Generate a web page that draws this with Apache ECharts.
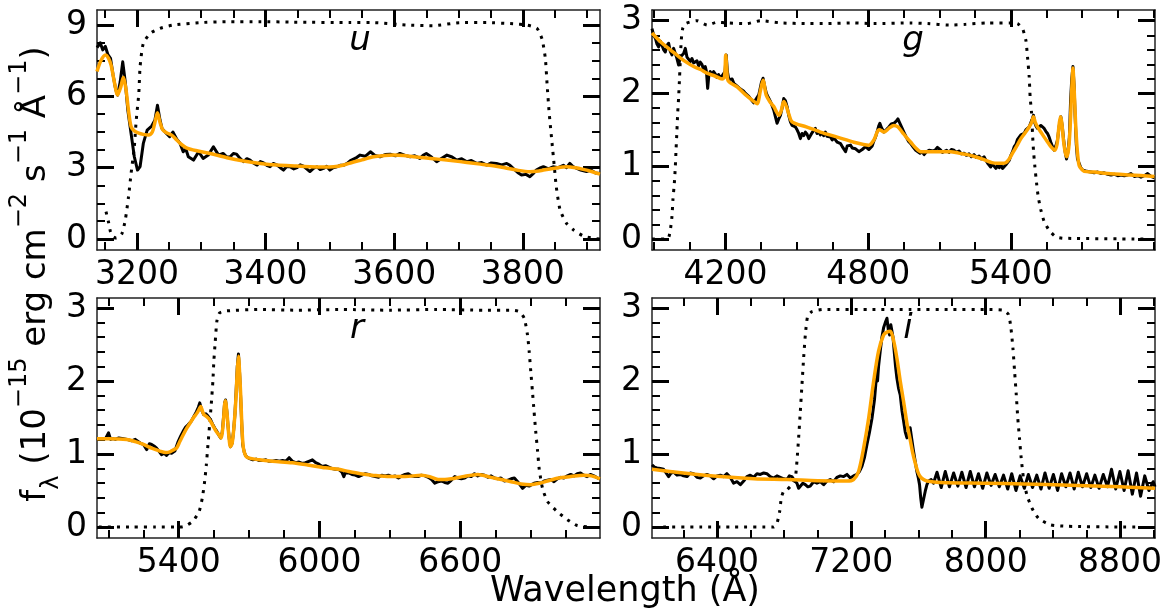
<!DOCTYPE html>
<html>
<head>
<meta charset="utf-8">
<script src="https://cdn.jsdelivr.net/npm/echarts@6/dist/echarts.min.js"></script>
<style>
  html, body { margin: 0; padding: 0; background: #fff; }
  #chart { width: 1172px; height: 614px; }
</style>
</head>
<body>
<div id="chart"></div>
<script>
// ---------- u band: observed spectrum, model fit, filter curve (wavelength Å, flux) ----------
const uSpectrum = [[3138,8.05],[3143,8.25],[3147,7.95],[3151,8.1],[3155,7.75],[3159,7.6],[3163,6.9],[3167,6.3],[3170,6.05],[3174,6.6],[3178,7.45],[3182,6.6],[3186,5.4],[3191,4.44],[3196,3.46],[3201,2.9],[3205,3.05],[3210,4.02],[3216,4.58],[3223,4.75],[3228,5.0],[3232,5.63],[3236,5.0],[3239,4.65],[3246,4.44],[3251,4.3],[3256,4.5],[3262,4.2],[3267,4.03],[3272,3.67],[3276,3.8],[3280,3.46],[3288,3.32],[3296,3.67],[3303,3.39],[3311,3.53],[3319,3.88],[3327,3.53],[3334,3.6],[3340,3.45],[3345,3.46],[3350,3.6],[3355,3.57],[3360,3.4],[3366,3.25],[3371,3.38],[3376,3.32],[3381,3.2],[3387,3.11],[3392,3.26],[3397,3.2],[3402,3.1],[3407,3.04],[3412,3.18],[3418,3.11],[3423,3.0],[3428,2.9],[3433,3.05],[3438,3.04],[3444,2.95],[3449,3.0],[3454,3.12],[3459,3.07],[3464,2.95],[3469,2.84],[3475,2.98],[3480,3.04],[3485,2.92],[3490,2.97],[3495,3.06],[3500,2.9],[3505,3.0],[3511,3.04],[3516,3.1],[3521,3.1],[3527,3.18],[3532,3.3],[3540,3.4],[3547,3.53],[3555,3.48],[3563,3.67],[3570,3.52],[3578,3.46],[3586,3.55],[3594,3.57],[3602,3.5],[3609,3.6],[3617,3.52],[3625,3.46],[3632,3.5],[3640,3.39],[3645,3.52],[3650,3.6],[3658,3.45],[3666,3.25],[3674,3.4],[3682,3.53],[3690,3.45],[3697,3.32],[3705,3.38],[3713,3.25],[3720,3.3],[3728,3.18],[3736,3.22],[3744,3.11],[3751,3.2],[3759,3.18],[3767,3.12],[3775,3.18],[3780,3.1],[3785,2.97],[3792,2.8],[3798,2.69],[3805,2.72],[3811,2.62],[3816,2.75],[3821,2.9],[3826,2.98],[3832,3.04],[3840,2.95],[3847,3.04],[3855,3.0],[3863,3.1],[3868,3.0],[3873,3.18],[3878,3.05],[3884,2.97],[3890,2.9],[3899,2.84],[3906,2.9],[3913,2.78],[3920,2.76]];
const uFit = [[3138,7.04],[3144,7.5],[3151,7.74],[3156,7.6],[3160,7.3],[3165,6.6],[3170,6.06],[3175,6.4],[3179,6.8],[3183,6.3],[3187,5.4],[3191,4.72],[3196,4.55],[3203,4.45],[3210,4.4],[3218,4.37],[3224,4.5],[3228,4.9],[3232,5.31],[3236,4.9],[3240,4.6],[3246,4.47],[3254,4.37],[3260,4.22],[3267,4.03],[3278,3.82],[3295,3.7],[3314,3.6],[3340,3.42],[3366,3.28],[3392,3.18],[3418,3.11],[3445,3.07],[3469,3.04],[3490,3.03],[3506,3.04],[3520,3.1],[3532,3.2],[3550,3.33],[3568,3.46],[3585,3.51],[3599,3.53],[3615,3.51],[3630,3.46],[3650,3.41],[3671,3.35],[3692,3.29],[3713,3.22],[3734,3.15],[3754,3.08],[3772,3.0],[3790,2.9],[3811,2.83],[3825,2.86],[3832,2.9],[3850,2.98],[3868,3.04],[3882,3.0],[3894,2.93],[3908,2.83],[3920,2.73]];
const uFilter = [[3152,1.15],[3156,0.7],[3159,0.3],[3163,0.1],[3168,0.04],[3173,0.1],[3177,0.24],[3182,0.8],[3187,1.78],[3191,2.76],[3196,3.88],[3199,5.0],[3203,6.13],[3205,7.25],[3210,8.23],[3221,8.65],[3236,8.86],[3257,9.0],[3298,9.1],[3340,9.14],[3392,9.14],[3443,9.12],[3532,9.1],[3568,9.1],[3620,9.0],[3661,8.97],[3703,9.1],[3744,9.1],[3785,9.05],[3806,9.0],[3822,8.86],[3830,8.4],[3835,7.6],[3838,6.4],[3841,5.3],[3845,4.16],[3849,3.04],[3852,2.2],[3858,1.22],[3868,0.66],[3879,0.38],[3894,0.13],[3910,0.03],[3920,0.0]];

// ---------- g band ----------
const gSpectrum = [[3891,2.89],[3898,2.8],[3905,2.76],[3912,2.68],[3919,2.64],[3926,2.72],[3933,2.71],[3940,2.6],[3947,2.57],[3954,2.66],[3961,2.69],[3968,2.58],[3975,2.53],[3982,2.62],[3989,2.6],[3996,2.48],[4003,2.39],[4010,2.5],[4017,2.48],[4024,2.55],[4031,2.62],[4038,2.5],[4045,2.5],[4052,2.44],[4059,2.48],[4066,2.42],[4073,2.41],[4080,2.45],[4087,2.38],[4094,2.43],[4101,2.4],[4108,2.33],[4115,2.37],[4120,2.3],[4125,2.07],[4130,2.25],[4136,2.3],[4143,2.26],[4150,2.3],[4157,2.27],[4164,2.22],[4171,2.26],[4178,2.21],[4185,2.24],[4192,2.25],[4198,2.3],[4203,2.53],[4208,2.3],[4214,2.19],[4221,2.17],[4228,2.2],[4235,2.14],[4242,2.15],[4249,2.1],[4256,2.09],[4263,2.06],[4270,2.07],[4277,2.03],[4284,2.0],[4291,2.01],[4298,1.96],[4305,1.93],[4312,1.9],[4319,1.87],[4326,1.91],[4333,1.89],[4340,1.98],[4344,2.04],[4351,2.15],[4358,2.21],[4365,2.1],[4372,2.0],[4379,1.95],[4386,1.91],[4393,1.86],[4403,1.77],[4410,1.68],[4417,1.59],[4424,1.65],[4431,1.7],[4438,1.8],[4445,1.93],[4452,1.9],[4459,1.82],[4466,1.7],[4473,1.61],[4480,1.56],[4487,1.57],[4494,1.54],[4501,1.5],[4508,1.45],[4515,1.38],[4522,1.45],[4529,1.42],[4536,1.47],[4543,1.44],[4550,1.38],[4557,1.4],[4564,1.46],[4571,1.47],[4578,1.52],[4585,1.45],[4592,1.48],[4599,1.43],[4606,1.46],[4613,1.42],[4620,1.47],[4627,1.41],[4634,1.43],[4642,1.4],[4649,1.36],[4656,1.4],[4663,1.36],[4670,1.33],[4677,1.35],[4684,1.31],[4691,1.27],[4698,1.25],[4705,1.2],[4712,1.28],[4719,1.3],[4726,1.29],[4733,1.25],[4740,1.27],[4747,1.24],[4754,1.22],[4761,1.2],[4768,1.18],[4775,1.23],[4782,1.25],[4789,1.27],[4796,1.26],[4803,1.23],[4810,1.24],[4817,1.28],[4824,1.35],[4831,1.4],[4838,1.48],[4845,1.56],[4849,1.59],[4856,1.53],[4866,1.47],[4876,1.5],[4887,1.54],[4897,1.58],[4908,1.59],[4918,1.62],[4925,1.65],[4932,1.6],[4943,1.52],[4950,1.47],[4960,1.4],[4970,1.34],[4979,1.31],[4990,1.26],[5000,1.22],[5007,1.2],[5018,1.18],[5028,1.2],[5035,1.16],[5045,1.2],[5056,1.22],[5063,1.2],[5073,1.21],[5084,1.23],[5091,1.26],[5098,1.27],[5105,1.22],[5112,1.19],[5119,1.2],[5130,1.22],[5140,1.19],[5150,1.23],[5161,1.22],[5171,1.19],[5182,1.21],[5192,1.17],[5203,1.18],[5213,1.15],[5224,1.17],[5234,1.13],[5245,1.16],[5255,1.12],[5266,1.14],[5276,1.1],[5287,1.13],[5297,1.07],[5305,1.03],[5315,0.99],[5322,1.03],[5330,1.0],[5337,0.97],[5344,1.01],[5351,0.98],[5358,1.02],[5365,0.97],[5372,0.99],[5379,1.02],[5386,1.05],[5393,1.08],[5400,1.15],[5407,1.2],[5414,1.27],[5421,1.3],[5428,1.37],[5435,1.4],[5442,1.43],[5449,1.44],[5456,1.45],[5463,1.5],[5470,1.52],[5477,1.54],[5484,1.6],[5490,1.65],[5495,1.7],[5500,1.6],[5506,1.55],[5512,1.52],[5519,1.54],[5526,1.56],[5533,1.56],[5540,1.52],[5547,1.48],[5554,1.45],[5561,1.4],[5568,1.33],[5575,1.27],[5582,1.22],[5589,1.28],[5596,1.36],[5603,1.55],[5610,1.68],[5616,1.55],[5622,1.36],[5628,1.2],[5634,1.1],[5640,1.2],[5646,1.4],[5651,1.9],[5656,2.2],[5661,2.37],[5666,2.1],[5670,1.7],[5675,1.3],[5680,1.1],[5687,1.04],[5694,0.98],[5701,0.95],[5708,0.94],[5720,0.93],[5736,0.92],[5750,0.91],[5765,0.92],[5778,0.9],[5792,0.91],[5807,0.89],[5821,0.88],[5835,0.89],[5849,0.87],[5863,0.88],[5877,0.87],[5891,0.88],[5905,0.9],[5919,0.86],[5933,0.87],[5947,0.85],[5961,0.87],[5975,0.9],[5989,0.86],[6004,0.84]];
const gFit = [[3891,2.83],[3930,2.7],[3968,2.6],[4010,2.49],[4040,2.42],[4066,2.37],[4095,2.33],[4122,2.28],[4155,2.24],[4186,2.2],[4196,2.23],[4201,2.53],[4206,2.3],[4212,2.17],[4249,2.09],[4285,1.98],[4319,1.89],[4333,1.86],[4347,2.04],[4358,2.18],[4371,1.98],[4386,1.89],[4403,1.82],[4414,1.75],[4424,1.7],[4434,1.76],[4445,1.89],[4455,1.83],[4466,1.72],[4480,1.61],[4540,1.54],[4599,1.47],[4670,1.4],[4740,1.33],[4780,1.3],[4803,1.29],[4824,1.36],[4845,1.5],[4856,1.49],[4866,1.47],[4887,1.52],[4908,1.56],[4925,1.54],[4943,1.47],[4960,1.4],[4979,1.33],[5000,1.25],[5021,1.2],[5050,1.2],[5077,1.2],[5110,1.2],[5147,1.2],[5180,1.18],[5217,1.16],[5250,1.13],[5287,1.09],[5320,1.05],[5344,1.04],[5365,1.04],[5379,1.05],[5393,1.1],[5407,1.18],[5425,1.28],[5442,1.38],[5460,1.46],[5477,1.54],[5487,1.6],[5495,1.68],[5503,1.6],[5512,1.54],[5526,1.47],[5540,1.4],[5555,1.33],[5568,1.27],[5585,1.22],[5594,1.3],[5599,1.45],[5604,1.6],[5609,1.68],[5614,1.6],[5621,1.36],[5628,1.2],[5634,1.13],[5640,1.18],[5645,1.31],[5650,1.6],[5654,1.91],[5658,2.2],[5661,2.35],[5664,2.2],[5668,1.91],[5672,1.6],[5677,1.31],[5682,1.12],[5687,1.01],[5697,0.96],[5708,0.93],[5750,0.92],[5807,0.9],[5900,0.88],[6004,0.86]];
const gFilter = [[3891,0.0],[3954,0.0],[3962,0.03],[3968,0.12],[3975,0.31],[3979,0.54],[3985,0.77],[3989,0.99],[3992,1.22],[3996,1.5],[3999,1.73],[4003,1.95],[4007,2.23],[4010,2.46],[4014,2.73],[4020,2.89],[4031,2.96],[4080,3.0],[4123,2.94],[4165,2.98],[4207,2.97],[4291,2.96],[4347,3.0],[4431,2.97],[4544,2.96],[4628,2.96],[4740,2.97],[4824,2.96],[4979,2.97],[5050,2.96],[5140,2.94],[5210,2.95],[5300,2.97],[5400,2.97],[5428,2.96],[5449,2.89],[5463,2.73],[5470,2.5],[5477,2.23],[5481,1.95],[5487,1.73],[5491,1.45],[5495,1.22],[5501,0.99],[5508,0.77],[5515,0.58],[5526,0.4],[5540,0.24],[5561,0.12],[5589,0.03],[5624,0.01],[5960,0.0]];

// ---------- r band ----------
const rSpectrum = [[5052,1.21],[5066,1.2],[5080,1.2],[5090,1.22],[5101,1.29],[5110,1.2],[5120,1.21],[5130,1.2],[5145,1.22],[5165,1.21],[5180,1.2],[5200,1.18],[5215,1.2],[5236,1.15],[5250,1.13],[5264,1.06],[5275,1.14],[5285,1.13],[5295,1.11],[5306,1.08],[5316,1.04],[5327,0.99],[5338,1.01],[5348,0.98],[5360,1.02],[5370,1.01],[5384,1.04],[5398,1.17],[5408,1.24],[5419,1.31],[5430,1.37],[5440,1.4],[5454,1.45],[5466,1.52],[5476,1.58],[5484,1.64],[5490,1.7],[5498,1.6],[5507,1.54],[5516,1.55],[5525,1.52],[5536,1.47],[5546,1.4],[5555,1.35],[5563,1.31],[5571,1.26],[5579,1.22],[5586,1.3],[5591,1.49],[5596,1.7],[5600,1.74],[5605,1.6],[5610,1.4],[5616,1.2],[5621,1.1],[5628,1.15],[5634,1.31],[5640,1.55],[5645,1.86],[5650,2.2],[5655,2.37],[5660,2.1],[5665,1.72],[5669,1.4],[5673,1.13],[5680,1.02],[5687,0.97],[5700,0.94],[5716,0.92],[5730,0.93],[5744,0.91],[5758,0.91],[5772,0.92],[5786,0.9],[5800,0.9],[5815,0.91],[5829,0.9],[5843,0.91],[5857,0.9],[5871,0.95],[5885,0.9],[5899,0.88],[5913,0.89],[5927,0.87],[5941,0.88],[5955,0.9],[5970,0.92],[5984,0.88],[5998,0.86],[6012,0.83],[6026,0.84],[6040,0.82],[6054,0.8],[6068,0.79],[6082,0.79],[6096,0.75],[6104,0.69],[6110,0.74],[6125,0.74],[6139,0.72],[6153,0.71],[6167,0.69],[6181,0.71],[6196,0.73],[6210,0.72],[6224,0.7],[6238,0.69],[6252,0.68],[6266,0.71],[6280,0.7],[6294,0.71],[6308,0.69],[6323,0.7],[6337,0.67],[6351,0.7],[6365,0.72],[6379,0.73],[6393,0.7],[6407,0.69],[6421,0.69],[6435,0.71],[6450,0.7],[6464,0.68],[6478,0.65],[6492,0.6],[6506,0.62],[6520,0.63],[6534,0.61],[6548,0.6],[6562,0.64],[6577,0.69],[6591,0.67],[6605,0.66],[6619,0.67],[6633,0.7],[6647,0.69],[6661,0.73],[6675,0.7],[6690,0.72],[6704,0.71],[6718,0.68],[6732,0.7],[6746,0.67],[6760,0.66],[6774,0.67],[6788,0.63],[6802,0.64],[6817,0.66],[6831,0.67],[6845,0.62],[6859,0.56],[6866,0.53],[6880,0.57],[6894,0.56],[6901,0.58],[6915,0.6],[6930,0.61],[6944,0.6],[6958,0.63],[6972,0.64],[6986,0.65],[7000,0.62],[7014,0.66],[7028,0.68],[7042,0.67],[7057,0.7],[7071,0.72],[7085,0.7],[7099,0.73],[7113,0.74],[7127,0.71],[7141,0.69],[7155,0.72],[7170,0.7],[7186,0.67],[7196,0.66]];
const rFit = [[5052,1.21],[5100,1.21],[5179,1.2],[5215,1.17],[5250,1.13],[5285,1.08],[5320,1.04],[5345,1.02],[5363,1.03],[5380,1.06],[5391,1.08],[5405,1.17],[5419,1.26],[5436,1.36],[5454,1.45],[5466,1.51],[5478,1.56],[5487,1.61],[5494,1.65],[5501,1.59],[5508,1.54],[5520,1.51],[5532,1.47],[5546,1.39],[5560,1.31],[5572,1.26],[5581,1.22],[5587,1.32],[5592,1.5],[5596,1.68],[5600,1.73],[5604,1.62],[5608,1.49],[5614,1.25],[5621,1.1],[5628,1.15],[5634,1.31],[5640,1.55],[5645,1.81],[5650,2.15],[5655,2.34],[5660,2.1],[5665,1.77],[5670,1.35],[5676,1.08],[5685,0.98],[5694,0.95],[5744,0.92],[5800,0.9],[5885,0.88],[5950,0.85],[6026,0.81],[6082,0.79],[6125,0.76],[6175,0.73],[6224,0.71],[6300,0.69],[6365,0.69],[6435,0.71],[6470,0.69],[6506,0.65],[6535,0.65],[6563,0.66],[6610,0.69],[6675,0.72],[6732,0.68],[6775,0.65],[6817,0.62],[6860,0.59],[6901,0.58],[6940,0.6],[6972,0.63],[7020,0.67],[7071,0.69],[7127,0.71],[7160,0.7],[7196,0.66]];
const rFilter = [[5060,0.0],[5200,0.0],[5300,0.0],[5410,0.0],[5433,0.02],[5461,0.08],[5487,0.21],[5501,0.4],[5511,0.63],[5518,0.85],[5525,1.13],[5532,1.4],[5539,1.68],[5546,2.0],[5550,2.27],[5556,2.54],[5563,2.82],[5574,2.93],[5603,2.96],[5744,2.98],[5900,2.97],[6100,2.98],[6300,2.97],[6500,2.98],[6700,2.97],[6817,2.97],[6852,2.95],[6873,2.86],[6887,2.63],[6894,2.41],[6901,2.13],[6908,1.86],[6915,1.58],[6922,1.31],[6930,1.04],[6937,0.79],[6951,0.53],[6972,0.35],[7014,0.21],[7057,0.1],[7099,0.02],[7156,0.0]];

// ---------- i band ----------
const iSpectrum = [[6013,0.85],[6028,0.82],[6043,0.81],[6062,0.8],[6082,0.79],[6097,0.74],[6112,0.69],[6127,0.74],[6142,0.75],[6162,0.71],[6182,0.72],[6201,0.7],[6221,0.69],[6241,0.74],[6261,0.73],[6281,0.68],[6301,0.67],[6320,0.7],[6340,0.72],[6360,0.7],[6380,0.66],[6400,0.7],[6420,0.71],[6440,0.69],[6459,0.73],[6479,0.68],[6499,0.6],[6519,0.62],[6539,0.58],[6559,0.63],[6578,0.69],[6598,0.71],[6618,0.68],[6638,0.73],[6658,0.72],[6678,0.74],[6697,0.73],[6717,0.69],[6737,0.67],[6757,0.7],[6777,0.68],[6797,0.66],[6817,0.65],[6831,0.7],[6846,0.69],[6861,0.64],[6876,0.6],[6886,0.53],[6896,0.53],[6911,0.6],[6926,0.58],[6941,0.55],[6955,0.56],[6975,0.62],[6995,0.6],[7015,0.62],[7035,0.58],[7055,0.63],[7074,0.65],[7094,0.62],[7114,0.68],[7134,0.7],[7154,0.69],[7174,0.72],[7194,0.67],[7213,0.7],[7233,0.72],[7248,0.76],[7263,0.83],[7278,0.95],[7293,1.13],[7308,1.3],[7323,1.49],[7338,1.75],[7352,2.13],[7356,2.0],[7362,2.2],[7372,2.41],[7382,2.6],[7392,2.73],[7402,2.8],[7412,2.86],[7420,2.7],[7428,2.63],[7435,2.77],[7442,2.77],[7448,2.6],[7455,2.41],[7463,2.2],[7471,2.04],[7481,1.9],[7491,1.81],[7501,1.6],[7511,1.45],[7521,1.3],[7531,1.22],[7541,1.2],[7550,1.36],[7560,1.2],[7570,1.04],[7580,0.9],[7590,0.76],[7598,0.68],[7606,0.58],[7613,0.4],[7620,0.27],[7630,0.38],[7640,0.49],[7650,0.58],[7660,0.63],[7675,0.65],[7689,0.6],[7710,0.75],[7735,0.54],[7759,0.76],[7784,0.55],[7809,0.74],[7834,0.56],[7858,0.75],[7883,0.54],[7908,0.76],[7933,0.55],[7957,0.73],[7982,0.53],[8007,0.74],[8032,0.57],[8056,0.72],[8081,0.55],[8106,0.71],[8131,0.52],[8155,0.73],[8180,0.5],[8205,0.7],[8230,0.53],[8254,0.72],[8279,0.54],[8304,0.71],[8329,0.52],[8353,0.74],[8378,0.53],[8403,0.72],[8428,0.5],[8452,0.73],[8477,0.55],[8502,0.74],[8527,0.52],[8551,0.75],[8576,0.55],[8601,0.73],[8626,0.54],[8650,0.71],[8675,0.53],[8700,0.72],[8725,0.55],[8749,0.79],[8774,0.52],[8799,0.76],[8824,0.5],[8848,0.77],[8873,0.45],[8898,0.74],[8922,0.42],[8947,0.7],[8972,0.5],[8997,0.62],[9008,0.55]];
const iFit = [[6013,0.79],[6200,0.74],[6420,0.69],[6620,0.66],[6817,0.65],[7000,0.635],[7174,0.63],[7213,0.65],[7243,0.76],[7273,1.08],[7303,1.49],[7333,2.0],[7362,2.41],[7392,2.63],[7412,2.67],[7432,2.68],[7452,2.55],[7472,2.3],[7491,2.0],[7511,1.72],[7531,1.42],[7550,1.2],[7565,1.02],[7580,0.88],[7595,0.76],[7610,0.69],[7630,0.65],[7650,0.63],[7729,0.61],[8000,0.6],[8225,0.59],[8500,0.57],[8800,0.55],[9008,0.53]];
const iFilter = [[6080,0.0],[6300,0.0],[6500,0.0],[6737,0.0],[6757,0.05],[6773,0.21],[6783,0.4],[6797,0.49],[6817,0.51],[6846,0.58],[6866,0.67],[6876,0.9],[6886,1.22],[6896,1.58],[6906,1.95],[6916,2.32],[6926,2.63],[6940,2.89],[6965,2.95],[7035,2.98],[7300,2.98],[7551,2.98],[7800,2.98],[8000,2.98],[8106,2.97],[8136,2.91],[8150,2.73],[8162,2.45],[8172,2.13],[8182,1.81],[8191,1.49],[8201,1.22],[8211,0.95],[8225,0.67],[8245,0.44],[8275,0.26],[8314,0.12],[8384,0.03],[8483,0.01],[8820,0.0],[8900,0.0]];

// ---------- axis tick labels ----------
const uTicksX = [3200, 3400, 3600, 3800];
const gTicksX = [4200, 4800, 5400];
const rTicksX = [5400, 6000, 6600];
const iTicksX = [6400, 7200, 8000, 8800];
const uTicksY = [0, 3, 6, 9];
const griTicksY = [0, 1, 2, 3];
const bandNames = ['u', 'g', 'r', 'i'];

// ---------- layout of the four panels ----------
const FONT = 'DejaVu Sans';
const panels = [
  { band: bandNames[0], box: [97, 10, 503, 240],  x: [3138, 3920], y: [-0.46, 9.63], xt: uTicksX, xMinor: 50,  yt: uTicksY,   yMinor: 0.75, spec: uSpectrum, fit: uFit, filt: uFilter, lab: [360, 41] },
  { band: bandNames[1], box: [652, 10, 503, 240], x: [3891, 6006], y: [-0.151, 3.147], xt: gTicksX, xMinor: 150, yt: griTicksY, yMinor: 0.2, spec: gSpectrum, fit: gFit, filt: gFilter, lab: [913, 41] },
  { band: bandNames[2], box: [97, 298, 503, 240], x: [5052, 7196], y: [-0.151, 3.137], xt: rTicksX, xMinor: 150, yt: griTicksY, yMinor: 0.2, spec: rSpectrum, fit: rFit, filt: rFilter, lab: [357, 329] },
  { band: bandNames[3], box: [652, 298, 503, 240], x: [6013, 9008], y: [-0.151, 3.137], xt: iTicksX, xMinor: 200, yt: griTicksY, yMinor: 0.2, spec: iSpectrum, fit: iFit, filt: iFilter, lab: [908, 329] }
];

// minor tick positions between/around the labelled ticks
function minorTicks(range, step, majors) {
  const out = [];
  const start = Math.ceil(range[0] / step);
  const end = Math.floor(range[1] / step);
  for (let k = start; k <= end; k++) {
    const v = Math.round(k * step * 1000) / 1000;
    if (!majors.some(m => Math.abs(m - v) < 1e-6)) out.push(v);
  }
  return out;
}

const frameLine = { show: true, onZero: false, lineStyle: { color: '#222', width: 1.5 } };
const noLine = { show: false, onZero: false };
const majorTick = vals => ({ show: true, inside: true, length: 17, customValues: vals, lineStyle: { color: '#000', width: 3 } });
const minorTick = vals => ({ show: true, inside: true, length: 8, customValues: vals, lineStyle: { color: '#000', width: 2 } });
const tickLabel = (vals, margin) => ({
  show: true, customValues: vals, margin: margin, fontSize: 33, fontFamily: FONT, color: '#000',
  formatter: v => String(v)
});

const grid = [], xAxis = [], yAxis = [], series = [], graphic = [];

panels.forEach((p, gi) => {
  grid.push({ left: p.box[0], top: p.box[1], width: p.box[2], height: p.box[3], containLabel: false });

  const xm = minorTicks(p.x, p.xMinor, p.xt);
  const ym = minorTicks(p.y, p.yMinor, p.yt);
  const xb = { type: 'value', gridIndex: gi, min: p.x[0], max: p.x[1], splitLine: { show: false } };
  const yb = { type: 'value', gridIndex: gi, min: p.y[0], max: p.y[1], splitLine: { show: false } };

  xAxis.push(
    Object.assign({}, xb, { position: 'bottom', axisLine: frameLine, axisTick: majorTick(p.xt), axisLabel: tickLabel(p.xt, 9) }),
    Object.assign({}, xb, { position: 'bottom', axisLine: noLine, axisTick: minorTick(xm), axisLabel: { show: false } }),
    Object.assign({}, xb, { position: 'top', axisLine: frameLine, axisTick: majorTick(p.xt), axisLabel: { show: false } }),
    Object.assign({}, xb, { position: 'top', axisLine: noLine, axisTick: minorTick(xm), axisLabel: { show: false } })
  );
  yAxis.push(
    Object.assign({}, yb, { position: 'left', axisLine: frameLine, axisTick: majorTick(p.yt), axisLabel: tickLabel(p.yt, 10) }),
    Object.assign({}, yb, { position: 'left', axisLine: noLine, axisTick: minorTick(ym), axisLabel: { show: false } }),
    Object.assign({}, yb, { position: 'right', axisLine: frameLine, axisTick: majorTick(p.yt), axisLabel: { show: false } }),
    Object.assign({}, yb, { position: 'right', axisLine: noLine, axisTick: minorTick(ym), axisLabel: { show: false } })
  );

  const ax = { xAxisIndex: gi * 4, yAxisIndex: gi * 4 };
  series.push(
    Object.assign({ type: 'line', name: p.band + ' filter', data: p.filt, symbol: 'none', smooth: 0.2, z: 2,
      lineStyle: { color: '#000', width: 3, type: [3, 6], cap: 'butt' } }, ax),
    Object.assign({ type: 'line', name: p.band + ' spectrum', data: p.spec, symbol: 'none', z: 3,
      lineStyle: { color: '#000', width: 3, join: 'round' } }, ax),
    Object.assign({ type: 'line', name: p.band + ' fit', data: p.fit, symbol: 'none', smooth: 0.3, z: 4,
      lineStyle: { color: '#FFA500', width: 3.5, join: 'round' } }, ax)
  );

  graphic.push({
    type: 'text', x: p.lab[0], y: p.lab[1], z: 10,
    style: { text: p.band, fontSize: 34, fontStyle: 'italic', fontFamily: FONT, fill: '#000',
      align: 'center', verticalAlign: 'middle', textAlign: 'center', textVerticalAlign: 'middle' }
  });
});

// axis titles
graphic.push({
  type: 'text', x: 625, y: 592, z: 10,
  style: { text: 'Wavelength (Å)', fontSize: 35, fontFamily: FONT, fill: '#000',
    align: 'center', verticalAlign: 'middle', textAlign: 'center', textVerticalAlign: 'middle' }
});
graphic.push({
  type: 'text', x: 36, y: 274, rotation: Math.PI / 2, z: 10,
  style: {
    text: '{m|f}{sub|λ}{m| (10}{sup|−15}{m| erg cm}{sup|−2}{m| s}{sup|−1}{m| Å}{sup|−1}{m|)}',
    fontSize: 34, fontFamily: FONT, fill: '#000',
    align: 'center', verticalAlign: 'middle', textAlign: 'center', textVerticalAlign: 'middle',
    rich: {
      m:   { fontSize: 34, fontFamily: FONT, fill: '#000', lineHeight: 56, verticalAlign: 'middle' },
      sup: { fontSize: 24, fontFamily: FONT, fill: '#000', lineHeight: 26, verticalAlign: 'top' },
      sub: { fontSize: 24, fontFamily: FONT, fill: '#000', lineHeight: 26, verticalAlign: 'bottom' }
    }
  }
});

const chart = echarts.init(document.getElementById('chart'), null, { renderer: 'canvas' });
chart.setOption({
  animation: false,
  backgroundColor: '#fff',
  grid: grid,
  xAxis: xAxis,
  yAxis: yAxis,
  series: series,
  graphic: graphic
});
</script>
</body>
</html>
